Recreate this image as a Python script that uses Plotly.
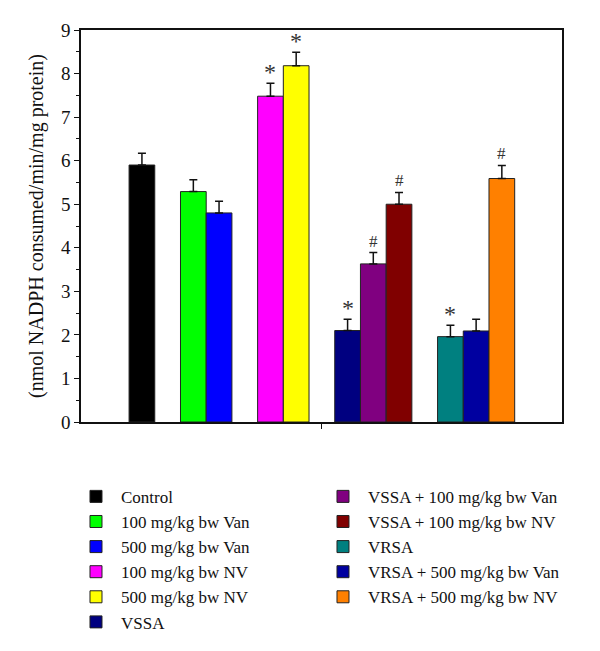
import plotly.graph_objects as go

labels = ["Control", "100 mg/kg bw Van", "500 mg/kg bw Van", "100 mg/kg bw NV",
          "500 mg/kg bw NV", "VSSA", "VSSA + 100 mg/kg bw Van", "VSSA + 100 mg/kg bw NV",
          "VRSA", "VRSA + 500 mg/kg bw Van", "VRSA + 500 mg/kg bw NV"]
values = [5.90, 5.29, 4.80, 7.48, 8.18, 2.10, 3.63, 5.00, 1.96, 2.09, 5.59]
errors = [0.27, 0.27, 0.27, 0.30, 0.31, 0.26, 0.26, 0.27, 0.26, 0.27, 0.30]
marks = ["", "", "", "*", "*", "*", "#", "#", "*", "", "#"]
group_of = [0, 1, 1, 2, 2, 3, 3, 3, 4, 4, 4]
colors = ["#000000", "#00FF00", "#0000FF", "#FF00FF", "#FFFF00", "#000080",
          "#800080", "#800000", "#008080", "#0000A0", "#FF8000"]
yticks = list(range(0, 10))

FONT = "Liberation Serif"
positions = [i + g for i, g in enumerate(group_of)]

fig = go.Figure()
for i, lab in enumerate(labels):
    fig.add_trace(go.Bar(
        x=[positions[i]], y=[values[i]], name=lab, width=1,
        marker=dict(color=colors[i], line=dict(color="#222222", width=1)),
        error_y=dict(type="data", array=[errors[i]], arrayminus=[0], symmetric=False,
                     color="#111111", thickness=1.5, width=4),
        legend="legend" if i < 6 else "legend2",
    ))
    if marks[i]:
        fig.add_annotation(x=positions[i], y=values[i] + errors[i], text=marks[i],
                           showarrow=False, yanchor="bottom", yshift=-4 if marks[i] == "*" else 0,
                           font=dict(family=FONT, size=24 if marks[i] == "*" else 17, color="#333"))

lo, hi = -2.37, 16.34
fig.update_layout(
    width=592, height=643,
    margin=dict(l=73, r=38, t=22, b=229, autoexpand=False),
    plot_bgcolor="white", paper_bgcolor="white",
    barmode="overlay",
    font=dict(family=FONT, size=17, color="#111"),
    xaxis=dict(range=[lo, hi], tickvals=[(lo + hi) / 2], ticktext=[""], ticks="outside",
               ticklen=5, tickcolor="#111", showline=True, linecolor="#111", linewidth=1.5,
               mirror=True, showgrid=False, zeroline=False, automargin=False),
    yaxis=dict(range=[0, 9], tickvals=yticks, ticks="outside", ticklen=5, tickcolor="#111",
               showline=True, linecolor="#111", linewidth=1.5, mirror=True,
               showgrid=False, zeroline=False, automargin=False,
               minor=dict(dtick=0.5, ticks="outside", ticklen=3, tickcolor="#111"),
               tickfont=dict(family=FONT, size=19),
               title=dict(text="(nmol NADPH consumed/min/mg protein)", standoff=12,
                          font=dict(family=FONT, size=20))),
    legend=dict(x=-0.0208, y=-0.145, xanchor="left", yanchor="top", orientation="v",
                font=dict(family=FONT, size=17), bgcolor="rgba(0,0,0,0)", itemwidth=40),
    legend2=dict(x=0.4927, y=-0.145, xanchor="left", yanchor="top", orientation="v",
                 font=dict(family=FONT, size=17), bgcolor="rgba(0,0,0,0)", itemwidth=40),
)
fig.write_html("out.html")
